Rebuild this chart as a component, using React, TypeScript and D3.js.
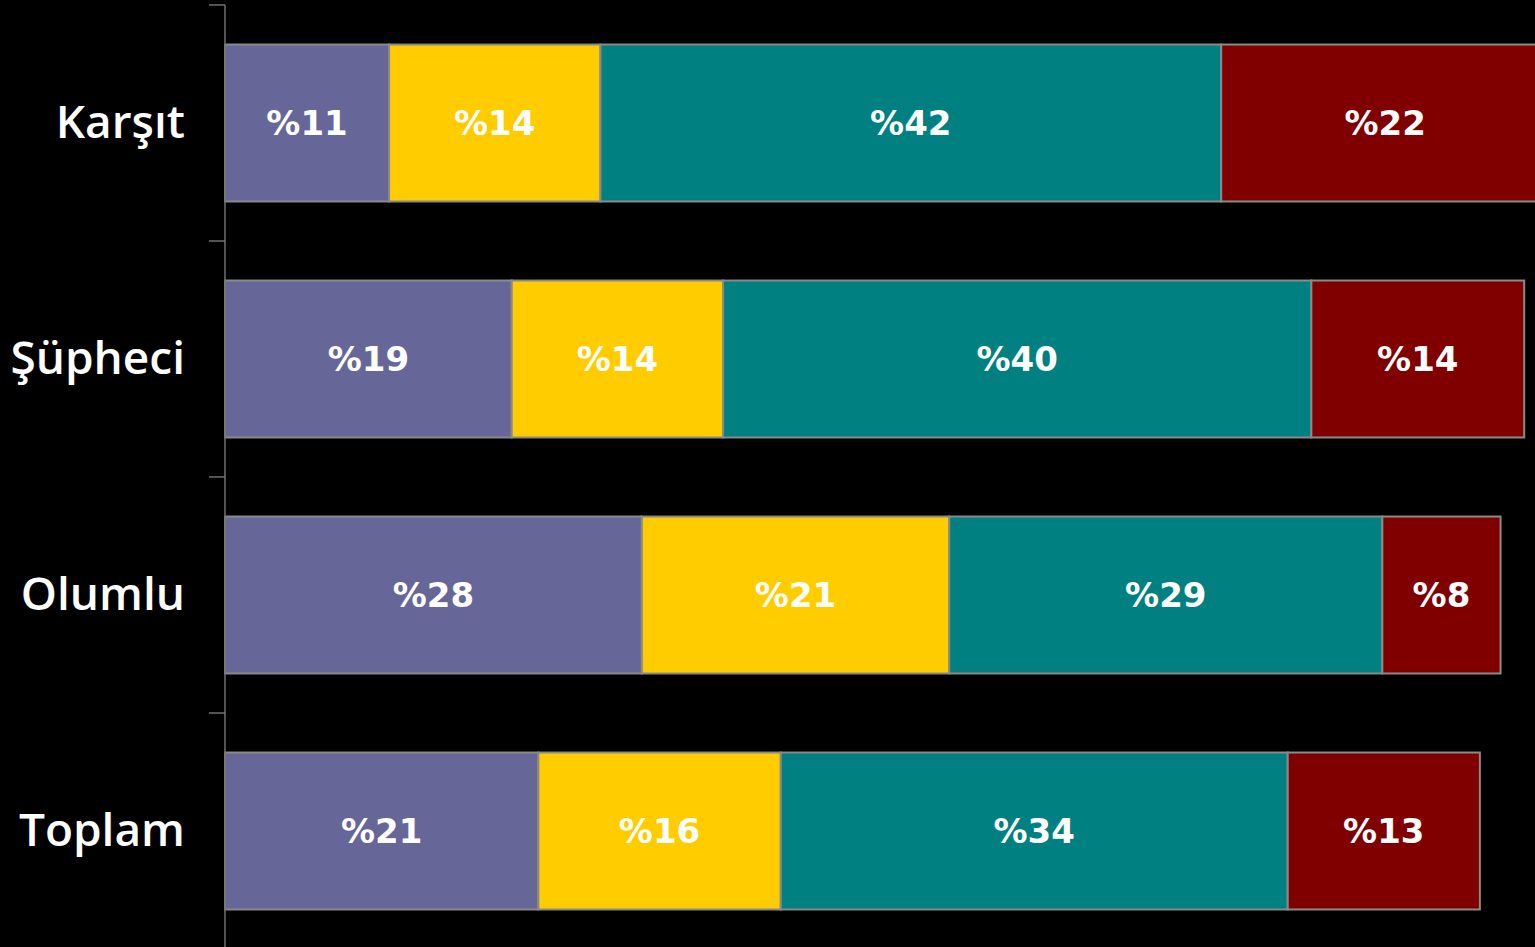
import React from "react";
import * as d3 from "d3";

const categories = ["Karşıt", "Şüpheci", "Olumlu", "Toplam"];
const series1 = [11.1, 19.4, 28.2, 21.2];
const series2 = [14.3, 14.3, 20.8, 16.4];
const series3 = [42.0, 39.8, 29.3, 34.3];
const series4 = [22.2, 14.4, 8.0, 13.0];
const seriesColors = ["#666699", "#FFCC00", "#008080", "#800000"];

const W = 1535;
const H = 947;

export default function App() {
  const allSeries = [series1, series2, series3, series4];
  const rows = categories.map((c, i) => {
    const obj: any = { cat: c };
    allSeries.forEach((s, j) => (obj["s" + j] = s[i]));
    return obj;
  });
  const keys = allSeries.map((_, j) => "s" + j);
  const stacked = d3.stack().keys(keys)(rows);

  const x = d3.scaleLinear().domain([0, 88.63]).range([225, W]);
  const y = d3
    .scaleBand<string>()
    .domain(categories)
    .range([5, 949])
    .paddingInner(0.335)
    .paddingOuter(0.1675);

  const step = y.step();
  const tickYs = d3.range(categories.length + 1).map((i) => 5 + i * step);
  const bw = y.bandwidth();

  return (
    <svg
      width={W}
      height={H}
      style={{ position: "absolute", left: 0, top: 0, background: "#000", display: "block" }}
    >
      <rect x={0} y={0} width={W} height={H} fill="#000" />
      <defs>
        <clipPath id="plotclip">
          <rect x={0} y={0} width={W} height={H} />
        </clipPath>
      </defs>
      <g clipPath="url(#plotclip)">
        {stacked.map((layer, j) =>
          layer.map((d, i) => {
            const x0 = x(d[0]);
            const x1 = x(d[1]);
            const yy = y(categories[i]) as number;
            const v = allSeries[j][i];
            return (
              <g key={j + "-" + i}>
                <rect
                  x={x0}
                  y={yy}
                  width={x1 - x0}
                  height={bw}
                  fill={seriesColors[j]}
                  stroke="#8a8a8a"
                  strokeWidth={2}
                />
                <text
                  x={(x0 + Math.min(x1, W + 14)) / 2}
                  y={yy + bw / 2 + 12.4}
                  textAnchor="middle"
                  fill="#fff"
                  fontFamily="'DejaVu Sans', Verdana, sans-serif"
                  fontWeight="bold"
                  fontSize={34}
                >
                  {"%" + Math.round(v)}
                </text>
              </g>
            );
          })
        )}
      </g>
      <line x1={225} x2={225} y1={5} y2={H} stroke="#707070" strokeWidth={1.5} />
      {tickYs.map((t, i) => (
        <line key={i} x1={209} x2={225} y1={t} y2={t} stroke="#707070" strokeWidth={1.5} />
      ))}
      {categories.map((c) => (
        <text
          key={c}
          x={185}
          y={(y(c) as number) + bw / 2 + 14.5}
          textAnchor="end"
          fill="#fff"
          fontFamily="'Open Sans', 'Noto Sans', sans-serif"
          fontWeight={600}
          fontSize={46}
        >
          {c}
        </text>
      ))}
    </svg>
  );
}
